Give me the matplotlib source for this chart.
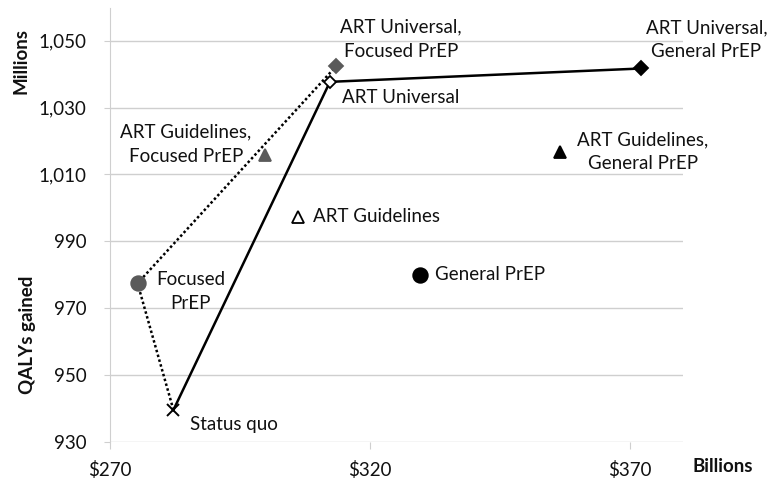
import numpy as np
import matplotlib
matplotlib.use("Agg")
from matplotlib import pyplot as plt

plt.rcParams["font.family"] = ["Lato", "DejaVu Sans"]

# strategies: cost (billions $) vs QALYs gained (millions)
strategies = [
    "Status quo",
    "Focused\nPrEP",
    "General PrEP",
    "ART Guidelines",
    "ART Guidelines,\nFocused PrEP",
    "ART Guidelines,\nGeneral PrEP",
    "ART Universal",
    "ART Universal,\nFocused PrEP",
    "ART Universal,\nGeneral PrEP",
]
cost = [282.2, 275.3, 329.7, 306.1, 299.8, 356.5, 312.3, 313.5, 372.2]
qalys = [939.5, 977.4, 979.9, 997.3, 1015.8, 1016.8, 1037.7, 1042.4, 1041.7]

# efficient frontiers (indices into the lists above)
frontier_all = [0, 6, 8]
frontier_focused = [0, 1, 7]

x_ticks = [270, 320, 370]
y_ticks = [930, 950, 970, 990, 1010, 1030, 1050]

gray = "#5a5a5a"
txt = "#111111"
grid_c = "#cfcfcf"
fs = 13.5

# marker style per strategy: (marker, size, face, edge)
styles = [
    ("x", 9, "k", "k"),
    ("o", 10.5, gray, gray),
    ("o", 10.5, "k", "k"),
    ("^", 8, "white", "k"),
    ("^", 9, gray, gray),
    ("^", 9, "k", "k"),
    ("D", 6.5, "white", "k"),
    ("D", 7.5, gray, gray),
    ("D", 7.5, "k", "k"),
]
# label offsets in pixels and alignment
label_pos = [
    (17, -15, "left"),
    (53, -8, "center"),
    (15, 0, "left"),
    (15, 0, "left"),
    (-79, 11, "center"),
    (83, 0, "center"),
    (12, -16, "left"),
    (65, 27, "center"),
    (65, 29, "center"),
]

fig = plt.figure(figsize=(7.71, 4.80), dpi=100)
ax = fig.add_axes([110 / 771, 1 - 441.7 / 480, (683 - 110) / 771, (441.7 - 8) / 480])

ax.set_xlim(270, 380.2)
ax.set_ylim(930, 1059.8)

for y in y_ticks:
    ax.axhline(y, color=grid_c, lw=1.0, zorder=0)

ax.plot([cost[i] for i in frontier_all], [qalys[i] for i in frontier_all],
        color="k", lw=1.8, zorder=2)
ax.plot([cost[i] for i in frontier_focused], [qalys[i] for i in frontier_focused],
        color="k", lw=1.8, ls=(0, (1, 1.0)), zorder=2)

for i, name in enumerate(strategies):
    m, s, fc, ec = styles[i]
    ax.plot(cost[i], qalys[i], marker=m, ms=s, mfc=fc, mec=ec,
            mew=1.3 if m != "x" else 1.4, ls="none", zorder=3)
    dx, dy, ha = label_pos[i]
    ax.annotate(name, (cost[i], qalys[i]), xytext=(dx, dy), textcoords="offset pixels",
                ha=ha, va="center", ma="center", fontsize=fs, color=txt, linespacing=1.5)

for s in ["top", "right", "bottom"]:
    ax.spines[s].set_visible(False)
ax.spines["left"].set_color(grid_c)

ax.set_xticks(x_ticks)
ax.set_xticklabels(["${}".format(v) for v in x_ticks])
ax.set_yticks(y_ticks)
ax.set_yticklabels(["{:,}".format(v) for v in y_ticks])
ax.tick_params(axis="y", length=4, color=grid_c, pad=13, labelsize=fs, labelcolor=txt)
ax.tick_params(axis="x", length=5, color=grid_c, pad=9, labelsize=fs, labelcolor=txt)

fig.text(21 / 771, 1 - 61 / 480, "Millions", rotation=90, ha="center", va="center",
         fontsize=fs, fontweight="bold", color=txt)
fig.text(28 / 771, 1 - 335 / 480, "QALYs gained", rotation=90, ha="center", va="center",
         fontsize=fs, fontweight="bold", color=txt)
fig.text(723 / 771, 1 - 467 / 480, "Billions", ha="center", va="center",
         fontsize=fs, fontweight="bold", color=txt)

fig.savefig("out.png", dpi=100)
